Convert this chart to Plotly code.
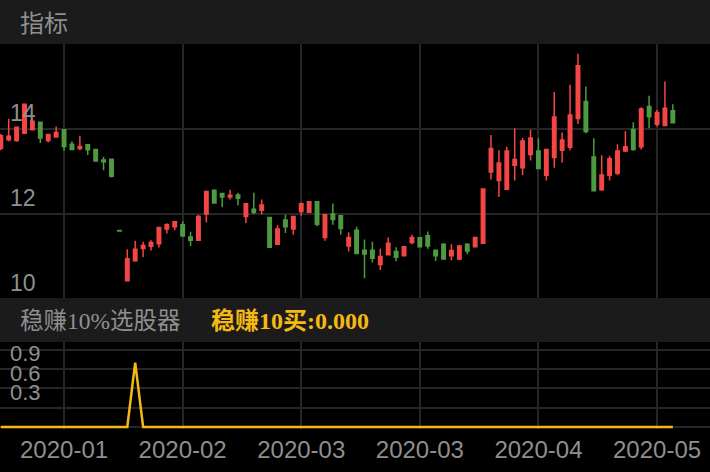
import pandas as pd
import plotly.graph_objects as go

W, H = 710, 472

# ---- data ----
open_ = [13.55, 13.75, 13.73, 13.90, 13.98, 14.16, 13.73, 13.81, 13.98, 13.64,
         13.54, 13.63, 13.52, 13.27, 13.29, 11.61, 10.43, 10.90, 11.19, 11.24,
         11.30, 11.65, 11.70, 11.75, 11.46, 11.38, 12.00, 12.56, 12.48, 12.40,
         12.45, 11.94, 12.11, 12.09, 11.92, 11.29, 11.86, 11.65, 12.06, 12.04,
         12.29, 11.45, 12.00, 11.96, 11.25, 11.62, 11.15, 11.15, 10.81, 11.04,
         11.12, 11.02, 11.33, 11.44, 11.49, 11.15, 11.29, 11.02, 10.94, 11.29,
         11.23, 11.31, 12.99, 12.79, 12.58, 13.15, 13.09, 13.40, 13.48, 12.91,
         13.33, 13.50, 13.57, 14.25, 14.65, 13.34, 12.57, 12.91, 12.96, 13.48,
         13.99, 13.58, 14.53, 14.11, 14.08, 14.43]
high = [13.88, 14.24, 14.06, 14.60, 14.24, 14.17, 13.88, 14.06, 14.00, 13.71,
        13.84, 13.64, 13.53, 13.35, 13.30, 11.61, 11.17, 11.37, 11.35, 11.38,
        11.69, 11.78, 11.83, 11.83, 11.58, 11.98, 12.55, 12.57, 12.49, 12.57,
        12.50, 12.26, 12.50, 12.34, 11.93, 11.74, 11.98, 11.95, 12.27, 12.30,
        12.30, 11.99, 12.25, 11.97, 11.57, 11.70, 11.40, 11.35, 11.18, 11.45,
        11.22, 11.25, 11.51, 11.45, 11.59, 11.16, 11.31, 11.29, 11.27, 11.31,
        11.46, 12.60, 13.86, 13.50, 13.58, 14.02, 13.79, 13.98, 13.78, 13.53,
        14.87, 13.92, 15.04, 15.77, 15.00, 13.78, 13.38, 13.37, 13.64, 13.95,
        14.16, 14.51, 14.78, 14.45, 15.12, 14.58]
low = [13.50, 13.71, 13.70, 13.88, 13.97, 13.67, 13.68, 13.80, 13.49, 13.51,
       13.50, 13.39, 13.23, 13.03, 12.86, 11.60, 10.42, 10.90, 10.99, 11.14,
       11.21, 11.54, 11.62, 11.47, 11.25, 11.37, 11.80, 12.25, 12.16, 12.34,
       12.20, 11.78, 12.00, 11.99, 11.20, 11.28, 11.55, 11.51, 11.96, 12.03,
       11.71, 11.37, 11.75, 11.51, 11.12, 11.05, 10.49, 10.86, 10.68, 11.03,
       10.89, 11.00, 11.29, 11.22, 11.18, 10.89, 10.93, 10.91, 10.92, 11.05,
       11.22, 11.30, 12.81, 12.40, 12.57, 12.79, 12.91, 13.26, 13.06, 12.79,
       13.09, 13.21, 13.50, 14.12, 13.90, 12.55, 12.55, 12.79, 12.91, 13.46,
       13.49, 13.52, 14.02, 14.06, 14.07, 14.14]
close = [13.84, 13.83, 14.04, 14.58, 14.18, 13.79, 13.87, 13.92, 13.59, 13.52,
         13.59, 13.51, 13.25, 13.23, 12.89, 11.60, 10.95, 11.17, 11.26, 11.33,
         11.68, 11.75, 11.82, 11.48, 11.38, 11.94, 12.53, 12.26, 12.40, 12.44,
         12.37, 12.24, 12.04, 12.21, 11.22, 11.65, 11.70, 11.94, 12.24, 12.29,
         11.76, 11.98, 11.87, 11.66, 11.45, 11.07, 11.06, 10.96, 11.00, 11.31,
         10.98, 11.23, 11.45, 11.23, 11.25, 11.02, 10.94, 11.14, 11.25, 11.13,
         11.45, 12.59, 13.54, 13.20, 13.48, 13.28, 13.72, 13.79, 13.07, 13.52,
         14.28, 13.74, 14.33, 15.49, 13.94, 12.55, 12.92, 13.30, 13.48, 13.58,
         13.52, 14.47, 14.29, 14.39, 14.49, 14.15]
signal = [0, 0, 0, 0, 0, 0, 0, 0, 0, 0,
          0, 0, 0, 0, 0, 0, 0, 1, 0, 0,
          0, 0, 0, 0, 0, 0, 0, 0, 0, 0,
          0, 0, 0, 0, 0, 0, 0, 0, 0, 0,
          0, 0, 0, 0, 0, 0, 0, 0, 0, 0,
          0, 0, 0, 0, 0, 0, 0, 0, 0, 0,
          0, 0, 0, 0, 0, 0, 0, 0, 0, 0,
          0, 0, 0, 0, 0, 0, 0, 0, 0, 0,
          0, 0, 0, 0, 0, 0]
market_holidays = ["2020-01-24", "2020-01-27", "2020-01-28", "2020-01-29",
                   "2020-01-30", "2020-01-31", "2020-04-06", "2020-05-01",
                   "2020-05-04", "2020-05-05"]
main_ticks = [10, 12, 14]
sub_ticks = [0, 0.3, 0.6, 0.9, 1.2]
sub_tick_text = ["", "0.3", "0.6", "0.9", ""]
title_main = "指标"
title_sub = "稳赚10%选股器"
legend_sub = "稳赚10买:0.000"

days = pd.bdate_range("2020-01-02", "2020-05-14")
dates = [d.strftime("%Y-%m-%d") for d in days if d.strftime("%Y-%m-%d") not in market_holidays]
tick_dates = dates[8::15]
tick_text = [d[:7] for d in tick_dates]

# ---- style ----
RED = "#F54545"
GREEN = "#4E9A42"
GOLD = "#F5B914"
GRID = "#262626"
HEADER = "#1B1B1B"
TXT = "#8F8F8F"
NUMFONT = "Liberation Sans, Arial, sans-serif"
CJK = "Noto Sans CJK SC"
MIXED = "Liberation Serif, Noto Sans CJK SC"

xr = [-0.1, 89.7]

fig = go.Figure()
fig.add_trace(go.Candlestick(
    x=dates, open=open_, high=high, low=low, close=close,
    increasing=dict(line=dict(color=RED, width=1.5), fillcolor=RED),
    decreasing=dict(line=dict(color=GREEN, width=1.5), fillcolor=GREEN),
    whiskerwidth=0, hoverinfo="skip", xaxis="x", yaxis="y", showlegend=False))
fig.add_trace(go.Scatter(
    x=dates, y=signal, mode="lines", line=dict(color=GOLD, width=2.5),
    hoverinfo="skip", xaxis="x2", yaxis="y2", showlegend=False))

yfont = dict(family=NUMFONT, size=23, color=TXT)
y2font = dict(family=NUMFONT, size=22, color=TXT)
xfont = dict(family=NUMFONT, size=24, color=TXT)

fig.update_layout(
    width=W, height=H, margin=dict(l=0, r=0, t=0, b=0),
    paper_bgcolor="#000000", plot_bgcolor="#000000",
    showlegend=False, boxgap=0.38,
    xaxis=dict(domain=[0, 1], anchor="y", type="category", range=xr,
               tickvals=tick_dates, showticklabels=False, showgrid=True,
               gridcolor=GRID, gridwidth=1.5, zeroline=False, showline=False,
               ticks="", rangeslider=dict(visible=False)),
    yaxis=dict(domain=[1 - 299 / H, 1 - 44 / H], range=[10, 16],
               tickvals=main_ticks, ticklabelposition="inside top",
               ticklabelstandoff=7, ticklabeloverflow="allow",
               showgrid=True, gridcolor=GRID, gridwidth=1.5,
               zeroline=False, showline=False, ticks="", tickfont=yfont),
    xaxis2=dict(domain=[0, 1], anchor="y2", type="category", range=xr,
                tickvals=tick_dates, ticktext=tick_text, showgrid=True,
                gridcolor=GRID, gridwidth=1.5, zeroline=False, showline=False,
                ticks="", tickfont=xfont, ticklabelstandoff=4),
    yaxis2=dict(domain=[1 - 429 / H, 1 - 342 / H], range=[-0.031, 1.32],
                tickvals=sub_ticks, ticktext=sub_tick_text,
                ticklabelposition="inside top", ticklabelstandoff=7,
                ticklabeloverflow="allow",
                showgrid=True, gridcolor=GRID, gridwidth=1.5, zeroline=False,
                showline=False, ticks="", tickfont=y2font),
    shapes=[
        dict(type="rect", xref="paper", yref="paper", x0=0, x1=1,
             y0=1 - 44 / H, y1=1, fillcolor=HEADER, line=dict(width=0), layer="below"),
        dict(type="rect", xref="paper", yref="paper", x0=0, x1=1,
             y0=1 - 342 / H, y1=1 - 298 / H, fillcolor=HEADER, line=dict(width=0), layer="above"),
    ],
    annotations=[
        dict(text=title_main, xref="paper", yref="paper", x=18 / W, y=1 - 22 / H,
             xanchor="left", yanchor="middle", showarrow=False,
             font=dict(family=CJK, size=24, color=TXT)),
        dict(text=title_sub, xref="paper", yref="paper", x=18 / W, y=1 - 321 / H,
             xanchor="left", yanchor="middle", showarrow=False,
             font=dict(family=MIXED, size=23.5, color=TXT)),
        dict(text="<b>" + legend_sub + "</b>", xref="paper", yref="paper",
             x=209 / W, y=1 - 321 / H, xanchor="left", yanchor="middle",
             showarrow=False, font=dict(family=MIXED, size=24, color=GOLD)),
    ],
)

fig.write_html("out.html", config={"displayModeBar": False},
               post_script="document.body.style.margin='0';document.body.style.overflow='hidden';")
